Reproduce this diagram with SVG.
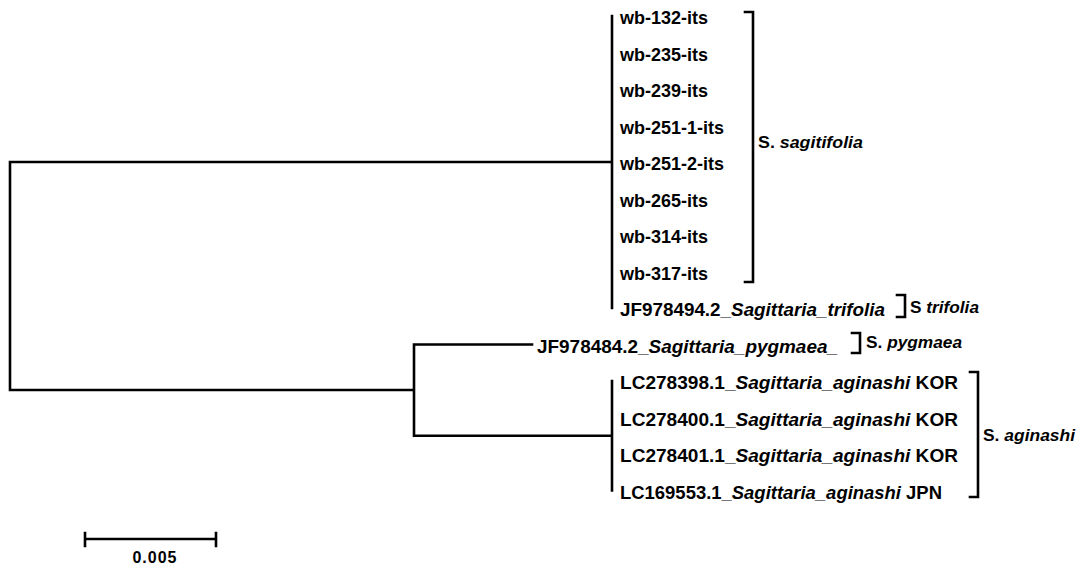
<svg xmlns="http://www.w3.org/2000/svg" width="1083" height="568" viewBox="0 0 1083 568">
<style>
.br{fill:none;stroke:#000;stroke-width:2.6;stroke-linecap:square}
.lb{font-family:"Liberation Sans",Arial,sans-serif;font-weight:bold;font-size:18px;fill:#000}
.sp{font-family:"Liberation Sans",Arial,sans-serif;font-weight:bold;font-size:16.5px;fill:#000}
.it{font-style:italic}
</style>
<rect width="1083" height="568" fill="#fff"/>
<g id="connectors">
<path class="br" d="M10,162 V390 M10,162 H612 M10,390 H414 M612,16 V308 M414,344.5 V435.75 M414,344.5 H532 M414,435.75 H612 M612,381 V490.5"/>
</g>
<g id="leaf-sagitifolia" class="lb">
<text x="620" y="24">wb-132-its</text>
<text x="620" y="60.5">wb-235-its</text>
<text x="620" y="97">wb-239-its</text>
<text x="620" y="133.5">wb-251-1-its</text>
<text x="620" y="170">wb-251-2-its</text>
<text x="620" y="206.5">wb-265-its</text>
<text x="620" y="243">wb-314-its</text>
<text x="620" y="279.5">wb-317-its</text>
</g>
<g id="leaf-trifolia" class="lb"><text x="620" y="316" textLength="265" lengthAdjust="spacingAndGlyphs">JF978494.2_<tspan class="it">Sagittaria_trifolia</tspan></text></g>
<g id="leaf-pygmaea" class="lb"><text x="537" y="352.5" textLength="301" lengthAdjust="spacingAndGlyphs">JF978484.2_<tspan class="it">Sagittaria_pygmaea_</tspan></text></g>
<g id="leaf-aginashi" class="lb">
<text x="620" y="389" textLength="338" lengthAdjust="spacingAndGlyphs">LC278398.1_<tspan class="it">Sagittaria_aginashi</tspan> KOR</text>
<text x="620" y="425.5" textLength="338" lengthAdjust="spacingAndGlyphs">LC278400.1_<tspan class="it">Sagittaria_aginashi</tspan> KOR</text>
<text x="620" y="462" textLength="338" lengthAdjust="spacingAndGlyphs">LC278401.1_<tspan class="it">Sagittaria_aginashi</tspan> KOR</text>
<text x="620" y="498.5" textLength="322" lengthAdjust="spacingAndGlyphs">LC169553.1_<tspan class="it">Sagittaria_aginashi</tspan> JPN</text>
</g>
<g id="group-sagitifolia">
<path class="br" d="M745,12 H753 V282 H745"/>
<text class="sp" x="758" y="148" textLength="105" lengthAdjust="spacingAndGlyphs">S. <tspan class="it">sagitifolia</tspan></text>
</g>
<g id="group-trifolia">
<path class="br" d="M897,295 H905 V317 H897"/>
<text class="sp" x="910" y="313" textLength="69" lengthAdjust="spacingAndGlyphs">S <tspan class="it">trifolia</tspan></text>
</g>
<g id="group-pygmaea">
<path class="br" d="M852,333 H860 V353 H852"/>
<text class="sp" x="866" y="348" textLength="96" lengthAdjust="spacingAndGlyphs">S. <tspan class="it">pygmaea</tspan></text>
</g>
<g id="group-aginashi">
<path class="br" d="M970,372 H978 V497 H970"/>
<text class="sp" x="983" y="441" textLength="92" lengthAdjust="spacingAndGlyphs">S. <tspan class="it">aginashi</tspan></text>
</g>
<g id="scale-bar">
<path class="br" d="M85,539 H216 M85,533 V546 M216,533 V546"/>
<text x="155" y="563" text-anchor="middle" style="font-family:'Liberation Sans',Arial,sans-serif;font-weight:bold;font-size:16px;letter-spacing:1px">0.005</text>
</g>
</svg>
